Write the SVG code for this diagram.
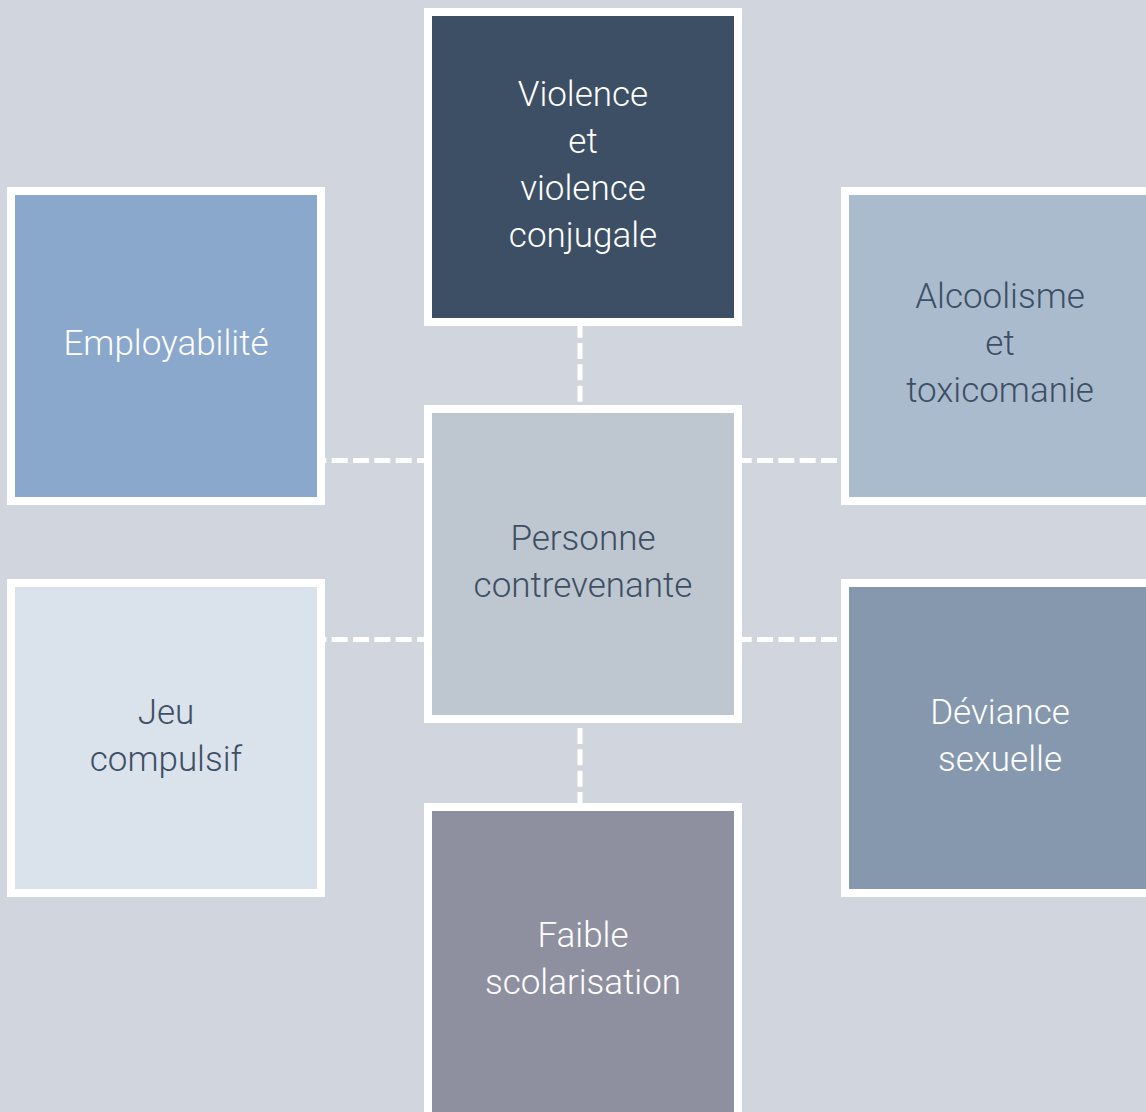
<svg xmlns="http://www.w3.org/2000/svg" width="1146" height="1112" viewBox="0 0 1146 1112">
<style>
.box{stroke:#ffffff;stroke-width:8}
.lbl{font-family:Roboto,"Liberation Sans",sans-serif;font-weight:300;font-size:35px;text-anchor:middle}
.w{fill:#ffffff}
.d{fill:#3D4F64}
.con{stroke:#ffffff;stroke-width:5;stroke-dasharray:16 5.33;fill:none}
</style>
<rect x="0" y="0" width="1146" height="1112" fill="#D1D5DD"/>
<g id="connectors">
<line class="con" x1="310.4" y1="460.5" x2="432" y2="460.5"/>
<line class="con" x1="310.4" y1="639.5" x2="432" y2="639.5"/>
<line class="con" x1="735.7" y1="460.5" x2="849" y2="460.5"/>
<line class="con" x1="735.7" y1="639.5" x2="849" y2="639.5"/>
<line class="con" x1="580" y1="321.7" x2="580" y2="413"/>
<line class="con" x1="580" y1="728" x2="580" y2="811"/>
</g>
<g id="node-violence">
<rect class="box" x="428" y="12" width="310" height="310" fill="#3D4F64"/>
<text class="lbl w" x="583" y="106">Violence</text>
<text class="lbl w" x="583" y="153">et</text>
<text class="lbl w" x="583" y="200">violence</text>
<text class="lbl w" x="583" y="247">conjugale</text>
</g>
<g id="node-employabilite">
<rect class="box" x="11" y="191" width="310" height="310" fill="#8AA7CC"/>
<text class="lbl w" x="166" y="355">Employabilité</text>
</g>
<g id="node-alcoolisme">
<rect class="box" x="845" y="191" width="310" height="310" fill="#AABBCD"/>
<text class="lbl d" x="1000" y="308">Alcoolisme</text>
<text class="lbl d" x="1000" y="355">et</text>
<text class="lbl d" x="1000" y="402">toxicomanie</text>
</g>
<g id="node-personne">
<rect class="box" x="428" y="409" width="310" height="310" fill="#BEC6D0"/>
<text class="lbl d" x="583" y="550">Personne</text>
<text class="lbl d" x="583" y="597">contrevenante</text>
</g>
<g id="node-jeu">
<rect class="box" x="11" y="583" width="310" height="310" fill="#DAE2EB"/>
<text class="lbl d" x="166" y="724">Jeu</text>
<text class="lbl d" x="166" y="771">compulsif</text>
</g>
<g id="node-deviance">
<rect class="box" x="845" y="583" width="310" height="310" fill="#8698AE"/>
<text class="lbl w" x="1000" y="724">Déviance</text>
<text class="lbl w" x="1000" y="771">sexuelle</text>
</g>
<g id="node-scolarisation">
<rect class="box" x="428" y="807" width="310" height="320" fill="#8E909F"/>
<text class="lbl w" x="583" y="947">Faible</text>
<text class="lbl w" x="583" y="994">scolarisation</text>
</g>
</svg>
